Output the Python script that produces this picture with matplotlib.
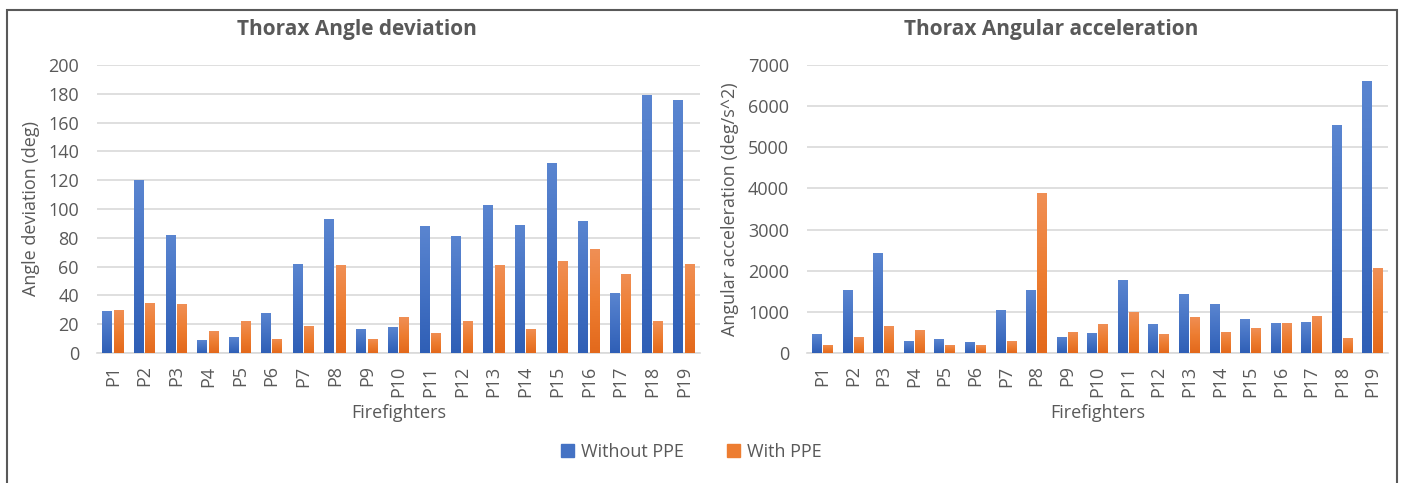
import numpy as np
import matplotlib
matplotlib.use("Agg")
import matplotlib.pyplot as plt
from matplotlib.colors import LinearSegmentedColormap
from matplotlib.patches import Rectangle, Patch

plt.rcParams["font.family"] = ["Open Sans", "DejaVu Sans"]

participants = ["P%d" % i for i in range(1, 20)]

angle_without = [29, 120, 82, 9, 11, 28, 62, 93, 17, 18, 88, 81, 103, 89, 132, 92, 42, 179, 176]
angle_with = [30, 35, 34, 15, 22, 10, 19, 61, 10, 25, 14, 22, 61, 17, 64, 72, 55, 22, 62]

accel_without = [450, 1520, 2420, 280, 340, 270, 1050, 1520, 400, 490,
                 1780, 700, 1430, 1180, 820, 720, 750, 5550, 6600]
accel_with = [200, 380, 650, 550, 190, 190, 280, 3880, 520, 700,
              990, 460, 880, 520, 600, 720, 910, 370, 2060]

series_names = ["Without PPE", "With PPE"]

text_col = "#595959"
grid_col = "#D9D9D9"
blue_map = LinearSegmentedColormap.from_list("b", ["#2F5FB6", "#4472C4", "#5A85D0"])
orange_map = LinearSegmentedColormap.from_list("o", ["#E3691C", "#ED7D31", "#F08F55"])
grad = np.linspace(0, 1, 64).reshape(-1, 1)


def gradient_bars(ax, bars, cmap):
    for b in bars:
        x0, y0 = b.get_x(), b.get_y()
        w, h = b.get_width(), b.get_height()
        im = ax.imshow(grad, cmap=cmap, origin="lower", aspect="auto",
                       extent=[x0, x0 + w, y0, y0 + h], zorder=3)
        im.set_clip_path(b)
        b.set_facecolor("none")


def draw(ax, without, with_, ylabel, ymax, step):
    x = np.arange(len(participants))
    w = 0.31
    b1 = ax.bar(x - 0.18, without, w, color="#4472C4", edgecolor="none", zorder=3)
    b2 = ax.bar(x + 0.18, with_, w, color="#ED7D31", edgecolor="none", zorder=3)
    gradient_bars(ax, b1, blue_map)
    gradient_bars(ax, b2, orange_map)
    ax.set_xlim(-0.5, len(participants) - 0.5)
    ax.set_ylim(0, ymax)
    ax.set_yticks(np.arange(0, ymax + 1, step))
    ax.set_xticks(x)
    ax.set_xticklabels(participants, rotation=90)
    ax.yaxis.grid(True, color=grid_col, lw=1.2)
    ax.set_axisbelow(True)
    for s in ["top", "right", "left"]:
        ax.spines[s].set_visible(False)
    ax.spines["bottom"].set_color(grid_col)
    ax.spines["bottom"].set_linewidth(1.2)
    ax.tick_params(length=0, colors=text_col, labelsize=13, pad=9)
    ax.tick_params(axis="y", pad=13)
    ax.set_ylabel(ylabel, fontsize=13, color=text_col, labelpad=6)
    ax.set_xlabel("Firefighters", fontsize=13, color=text_col, labelpad=5)


fig = plt.figure(figsize=(14.02, 4.83), dpi=100)
ax1 = fig.add_axes([97 / 1402, 1 - 353 / 483, (700 - 97) / 1402, (353 - 65) / 483])
ax2 = fig.add_axes([807 / 1402, 1 - 353 / 483, (1388 - 807) / 1402, (353 - 65) / 483])

draw(ax1, angle_without, angle_with, "Angle deviation (deg)", 200, 20)
draw(ax2, accel_without, accel_with, "Angular acceleration (deg/s^2)", 7000, 1000)

# chart titles sit centred over each chart block
fig.text(357 / 1402, 1 - 30 / 483, "Thorax Angle deviation", ha="center", va="center",
         fontsize=15, fontweight="bold", color=text_col)
fig.text(1051 / 1402, 1 - 30 / 483, "Thorax Angular acceleration", ha="center", va="center",
         fontsize=15, fontweight="bold", color=text_col)

fig.patches.append(Rectangle((7 / 1402, -0.01), (1397 - 7) / 1402, 1 - 10 / 483 + 0.01,
                             transform=fig.transFigure, fill=False,
                             edgecolor="#595959", lw=1.5))

handles = [Patch(color="#4472C4"), Patch(color="#ED7D31")]
fig.legend(handles, series_names, loc="center", bbox_to_anchor=(0.493, 1 - 452 / 483),
           ncol=2, frameon=False, fontsize=13, labelcolor=text_col,
           handlelength=0.7, handleheight=0.7, handletextpad=0.4, columnspacing=2.4)

fig.savefig("out.png", dpi=100)
